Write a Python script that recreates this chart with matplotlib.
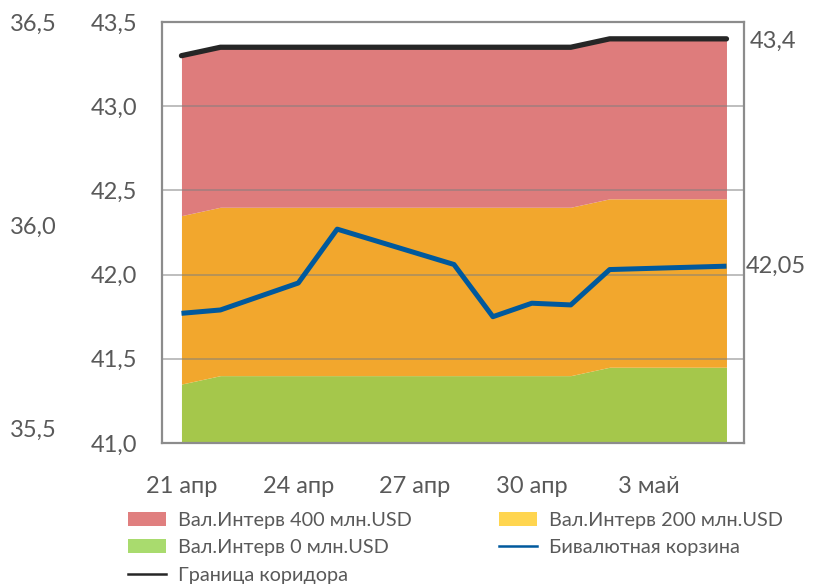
import matplotlib
matplotlib.use("Agg")
import matplotlib.pyplot as plt
import numpy as np
import pandas as pd
from matplotlib.patches import Patch
from matplotlib.lines import Line2D

plt.rcParams['font.family'] = ['Lato', 'DejaVu Sans']

dates = ["2014-04-21", "2014-04-22", "2014-04-23", "2014-04-24", "2014-04-25",
         "2014-04-28", "2014-04-29", "2014-04-30", "2014-05-01", "2014-05-02",
         "2014-05-05"]
basket = [41.77, 41.79, 41.87, 41.95, 42.27, 42.06, 41.75, 41.83, 41.82, 42.03, 42.05]
corridor = [43.30, 43.35, 43.35, 43.35, 43.35, 43.35, 43.35, 43.35, 43.35, 43.40, 43.40]
interv_200 = [42.35, 42.40, 42.40, 42.40, 42.40, 42.40, 42.40, 42.40, 42.40, 42.45, 42.45]
interv_0 = [41.35, 41.40, 41.40, 41.40, 41.40, 41.40, 41.40, 41.40, 41.40, 41.45, 41.45]
tick_dates = ["2014-04-21", "2014-04-24", "2014-04-27", "2014-04-30", "2014-05-03"]
tick_labels = ["21 апр", "24 апр", "27 апр", "30 апр", "3 май"]
left_ticks = [41.0, 41.5, 42.0, 42.5, 43.0, 43.5]
outer_ticks = [35.5, 36.0, 36.5]
labels = ["Вал.Интерв 400 млн.USD", "Вал.Интерв 0 млн.USD", "Граница коридора",
          "Вал.Интерв 200 млн.USD", "Бивалютная корзина"]

t0 = pd.Timestamp(dates[0])
x = np.array([(pd.Timestamp(d) - t0).days for d in dates])
xt = [(pd.Timestamp(d) - t0).days for d in tick_dates]

grey = "#595959"
c_red, c_org, c_grn = "#DE7C7C", "#F2A72D", "#A5C74B"
fs = 17

fig = plt.figure(figsize=(8.14, 5.86), dpi=100)
ax = fig.add_axes([162/814, 1-443/586, (744-162)/814, (443-22)/586])

ymin = 41.0
ax.fill_between(x, ymin, interv_0, color=c_grn, lw=0, zorder=1)
ax.fill_between(x, interv_0, interv_200, color=c_org, lw=0, zorder=1)
ax.fill_between(x, interv_200, corridor, color=c_red, lw=0, zorder=1)
for v in left_ticks[1:-1]:
    ax.axhline(v, color="#7F7F7F", alpha=0.55, lw=1.3, zorder=2)
ax.plot(x, corridor, color="#262626", lw=3.8, solid_capstyle='round', zorder=4)
ax.plot(x, basket, color="#00599D", lw=3.6, solid_capstyle='butt', zorder=5)

ax.set_xlim(-0.5, 14.45)
ax.set_ylim(41.0, 43.5)
ax.set_yticks(left_ticks)
ax.set_yticklabels([f"{v:.1f}".replace(".", ",") for v in left_ticks])
ax.set_xticks(xt)
ax.set_xticklabels(tick_labels)
ax.tick_params(axis='y', length=0, pad=18, labelsize=fs, labelcolor=grey)
ax.tick_params(axis='x', length=0, pad=24, labelsize=fs, labelcolor=grey)
for s in ax.spines.values():
    s.set_color("#8C8C8C")
    s.set_linewidth(1.6)

ax2 = ax.twinx()
ax2.set_ylim(36.5 - 421/406, 36.5)
ax2.yaxis.tick_left()
ax2.set_yticks(outer_ticks)
ax2.set_yticklabels([f"{v:.1f}".replace(".", ",") for v in outer_ticks])
ax2.tick_params(axis='y', length=0, pad=76, labelsize=fs, labelcolor=grey)
for s in ax2.spines.values():
    s.set_visible(False)

ax.annotate(f"{corridor[-1]:.1f}".replace(".", ","), xy=(x[-1], corridor[-1]),
            xytext=(17, -2), textcoords='offset points', va='center', ha='left',
            fontsize=fs, color=grey, annotation_clip=False)
ax.annotate(f"{basket[-1]:.2f}".replace(".", ","), xy=(x[-1], basket[-1]),
            xytext=(14, 0), textcoords='offset points', va='center', ha='left',
            fontsize=fs, color=grey, annotation_clip=False)

handles = [Patch(facecolor="#E07F7F"), Patch(facecolor="#A9DB6E"),
           Line2D([], [], color="#262626", lw=1.8),
           Patch(facecolor="#FFD54F"), Line2D([], [], color="#00599D", lw=1.8)]
leg = fig.legend(handles, labels, loc='upper left', bbox_to_anchor=(128/814, 1-512/586),
                 ncol=2, frameon=False, fontsize=14.3, labelcolor=grey,
                 handlelength=1.9, handleheight=0.7, handletextpad=0.6,
                 columnspacing=4.4, labelspacing=0.52, borderaxespad=0, borderpad=0)

fig.savefig("out.png", dpi=100)
